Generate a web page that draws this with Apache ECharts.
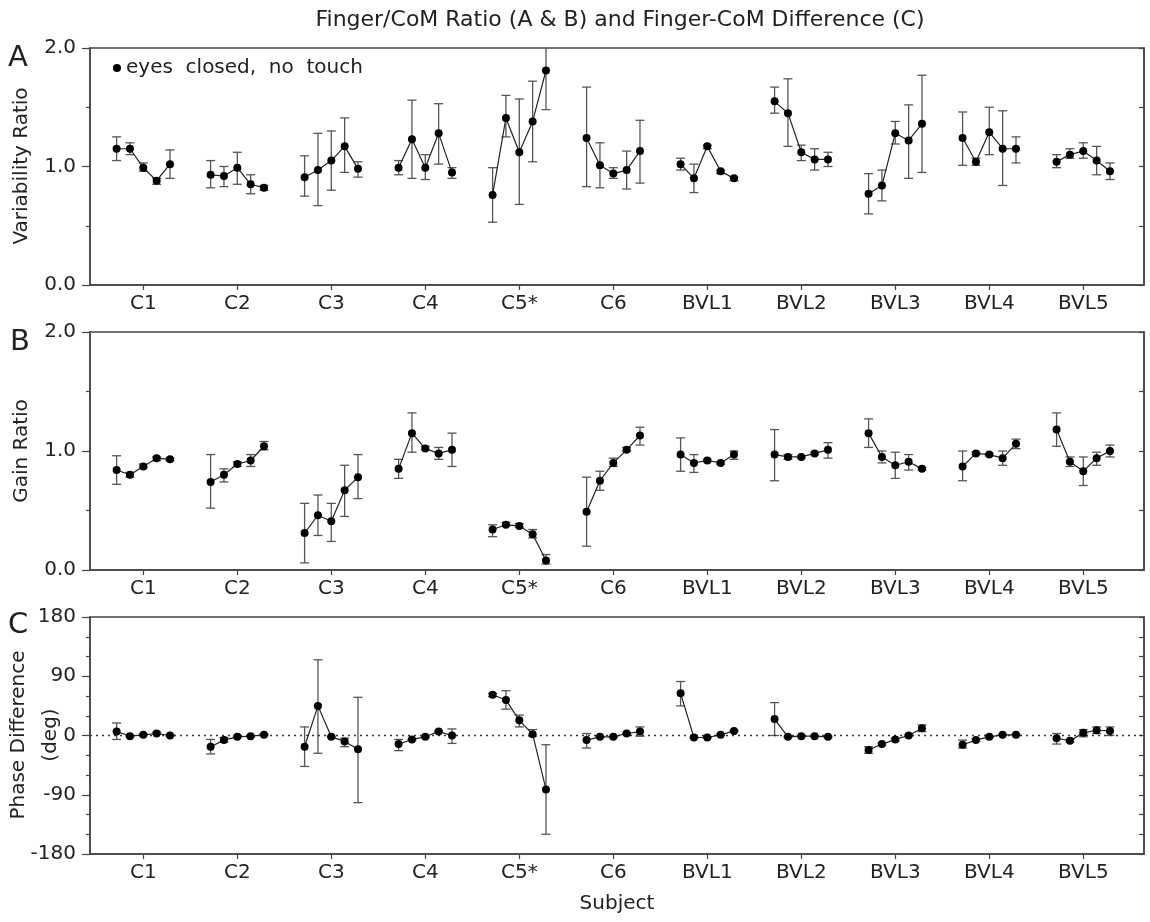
<!DOCTYPE html>
<html>
<head>
<meta charset="utf-8">
<script src="https://cdn.jsdelivr.net/npm/echarts@6/dist/echarts.min.js"></script>
<style>html,body{margin:0;padding:0;background:#fff}#chart{width:1150px;height:922px}</style>
</head>
<body>
<div id="chart"></div>
<script>
// ---- data ----
const subjects = ['C1','C2','C3','C4','C5*','C6','BVL1','BVL2','BVL3','BVL4','BVL5'];
const seriesName = 'eyes closed, no touch';

// Panel A: variability ratio (5 conditions per subject)
const varMean = [
  [1.15,1.15,0.99,0.88,1.02],[0.93,0.92,0.99,0.85,0.82],[0.91,0.97,1.05,1.17,0.98],
  [0.99,1.23,0.99,1.28,0.95],[0.76,1.41,1.12,1.38,1.81],[1.24,1.01,0.94,0.97,1.13],
  [1.02,0.90,1.17,0.96,0.90],[1.55,1.45,1.12,1.06,1.06],[0.77,0.84,1.28,1.22,1.36],
  [1.24,1.04,1.29,1.15,1.15],[1.04,1.10,1.13,1.05,0.96]];
const varLow = [
  [1.05,1.10,0.96,0.85,0.90],[0.82,0.83,0.85,0.77,0.80],[0.75,0.67,0.80,0.95,0.91],
  [0.93,0.90,0.89,1.02,0.90],[0.53,1.25,0.68,1.04,1.48],[0.83,0.82,0.90,0.81,0.86],
  [0.97,0.78,1.15,0.94,0.88],[1.45,1.17,1.05,0.97,1.00],[0.60,0.71,1.19,0.90,0.95],
  [1.01,1.01,1.10,0.84,1.03],[0.99,1.07,1.07,0.93,0.89]];
const varHigh = [
  [1.25,1.20,1.03,0.90,1.14],[1.05,1.00,1.12,0.93,0.84],[1.09,1.28,1.30,1.41,1.04],
  [1.05,1.56,1.10,1.53,0.99],[0.99,1.60,1.57,1.72,2.10],[1.67,1.20,0.99,1.13,1.39],
  [1.07,1.02,1.18,0.97,0.91],[1.67,1.74,1.18,1.15,1.12],[0.94,0.97,1.38,1.52,1.77],
  [1.46,1.07,1.50,1.47,1.25],[1.10,1.15,1.20,1.17,1.03]];

// Panel B: gain ratio
const gainMean = [
  [0.84,0.80,0.87,0.94,0.93],[0.74,0.80,0.89,0.92,1.04],[0.31,0.46,0.41,0.67,0.78],
  [0.85,1.15,1.02,0.98,1.01],[0.34,0.38,0.37,0.30,0.08],[0.49,0.75,0.90,1.01,1.13],
  [0.97,0.90,0.92,0.90,0.97],[0.97,0.95,0.95,0.98,1.01],[1.15,0.95,0.88,0.91,0.85],
  [0.87,0.98,0.97,0.94,1.06],[1.18,0.91,0.83,0.94,1.00]];
const gainLow = [
  [0.72,0.78,0.86,0.92,0.92],[0.52,0.74,0.87,0.87,1.01],[0.06,0.29,0.24,0.45,0.60],
  [0.77,0.99,1.01,0.93,0.87],[0.28,0.37,0.36,0.27,0.05],[0.20,0.67,0.87,1.00,1.05],
  [0.83,0.82,0.91,0.89,0.93],[0.75,0.93,0.94,0.97,0.94],[1.03,0.90,0.77,0.84,0.84],
  [0.75,0.97,0.96,0.88,1.02],[1.04,0.87,0.71,0.88,0.95]];
const gainHigh = [
  [0.96,0.82,0.89,0.95,0.94],[0.97,0.85,0.91,0.97,1.08],[0.56,0.63,0.56,0.88,0.97],
  [0.93,1.32,1.04,1.03,1.15],[0.38,0.40,0.39,0.34,0.13],[0.78,0.83,0.94,1.03,1.20],
  [1.11,0.97,0.93,0.91,1.00],[1.18,0.97,0.96,0.99,1.07],[1.27,1.00,0.99,0.97,0.86],
  [1.00,0.99,0.98,1.00,1.10],[1.32,0.95,0.95,0.99,1.05]];

// Panel C: phase difference (deg)
const phaseMean = [
  [6,-1,1,3,0],[-17,-7,-2,-1,1],[-17,45,-2,-9,-21],[-13,-6,-2,6,0],[62,54,23,2,-82],
  [-7,-2,-2,3,6],[64,-3,-3,1,7],[25,-2,-1,-1,-2],[-22,-13,-6,0,11],[-14,-7,-2,1,1],[-4,-8,4,8,7]];
const phaseLow = [
  [-6,-2,0,2,-1],[-28,-10,-3,-2,0],[-47,-27,-3,-17,-102],[-23,-7,-3,5,-12],[59,40,13,-1,-150],
  [-19,-3,-3,2,-1],[45,-4,-4,0,6],[0,-3,-2,-2,-3],[-27,-15,-8,-1,6],[-19,-9,-3,0,0],[-13,-10,-2,3,0]];
const phaseHigh = [
  [19,0,2,5,1],[-6,-3,-1,0,2],[13,115,-1,-4,58],[-6,-5,-1,7,10],[64,68,31,9,-14],
  [3,-1,-1,4,13],[82,-2,-2,2,8],[50,-1,0,0,-1],[-17,-11,-4,1,16],[-7,-5,-1,2,2],[3,-6,9,13,13]];

const yTicksAB = ['0.0','1.0','2.0'];
const yTicksC = ['-180','-90','0','90','180'];

// ---- layout / style ----
const FONT = 'DejaVu Sans';
const TXT = '#222';
const AX = '#444';
const STEP = 0.142;
const grids = [
  {left: 90, right: 6, top: 48, height: 237},
  {left: 90, right: 6, top: 332, height: 238},
  {left: 90, right: 6, top: 617, height: 237}
];
const tickVals = subjects.map((s, i) => i);

const xAxes = grids.map((g, i) => ({
  type: 'value', gridIndex: i, min: -0.567, max: 10.646,
  name: i === 2 ? 'Subject' : '', nameLocation: 'middle', nameGap: 40,
  nameTextStyle: {fontFamily: FONT, fontSize: 20, color: TXT},
  axisLine: {show: true, onZero: false, lineStyle: {color: AX, width: 1.5}},
  axisTick: {show: true, customValues: tickVals, length: 5, lineStyle: {color: AX, width: 1.2}},
  axisLabel: {show: true, customValues: tickVals, formatter: v => subjects[Math.round(v)],
    fontFamily: FONT, fontSize: 20, color: TXT, margin: 9},
  splitLine: {show: false}
}));

function leftY(i, min, max, interval, minorSplit, fmt) {
  return {
    type: 'value', gridIndex: i, position: 'left', min, max, interval,
    axisLine: {show: true, onZero: false, lineStyle: {color: AX, width: 1.5}},
    axisTick: {show: true, length: 8, lineStyle: {color: AX, width: 1.2}},
    minorTick: {show: true, splitNumber: minorSplit, length: 4, lineStyle: {color: AX, width: 1.2}},
    axisLabel: {formatter: fmt, fontFamily: FONT, fontSize: 20, color: TXT, margin: 14},
    splitLine: {show: false}, minorSplitLine: {show: false}
  };
}
function rightY(i, min, max, interval) {
  return {
    type: 'value', gridIndex: i, position: 'right', min, max, interval,
    axisLine: {show: true, onZero: false, lineStyle: {color: AX, width: 1.5}},
    axisTick: {show: true, inside: true, length: 5, lineStyle: {color: AX, width: 1.2}},
    axisLabel: {show: false}, splitLine: {show: false}
  };
}
const yAxes = [
  leftY(0, 0, 2, 1, 2, v => yTicksAB[Math.round(v)]),
  rightY(0, 0, 2, 0.5),
  leftY(1, 0, 2, 1, 2, v => yTicksAB[Math.round(v)]),
  rightY(1, 0, 2, 0.5),
  leftY(2, -180, 180, 90, 3, v => yTicksC[Math.round(v / 90) + 2]),
  rightY(2, -180, 180, 30)
];

const series = [];
function addPanel(mean, low, high, p) {
  const bars = [];
  mean.forEach((vals, s) => {
    const pts = vals.map((v, k) => [s + (k - 2) * STEP, v]);
    vals.forEach((v, k) => bars.push([s + (k - 2) * STEP, low[s][k], high[s][k]]));
    const ser = {
      type: 'line', name: seriesName, xAxisIndex: p, yAxisIndex: p * 2,
      data: pts, symbol: 'circle', symbolSize: 8, color: '#000',
      itemStyle: {color: '#000'}, lineStyle: {color: '#222', width: 1.2}, z: 5
    };
    if (p === 2 && s === 0) {
      ser.markLine = {silent: true, symbol: 'none', label: {show: false},
        lineStyle: {type: [2, 4], color: '#333', width: 1.3}, data: [{yAxis: 0}]};
    }
    series.push(ser);
  });
  series.push({
    type: 'custom', xAxisIndex: p, yAxisIndex: p * 2, clip: true, z: 3,
    data: bars, encode: {x: 0, y: [1, 2]},
    renderItem: (params, api) => {
      const x = api.value(0);
      const a = api.coord([x, api.value(2)]);
      const b = api.coord([x, api.value(1)]);
      const w = 4.5;
      const st = {stroke: '#555', lineWidth: 1.3};
      return {type: 'group', children: [
        {type: 'line', shape: {x1: a[0], y1: a[1], x2: b[0], y2: b[1]}, style: st},
        {type: 'line', shape: {x1: a[0] - w, y1: a[1], x2: a[0] + w, y2: a[1]}, style: st},
        {type: 'line', shape: {x1: b[0] - w, y1: b[1], x2: b[0] + w, y2: b[1]}, style: st}
      ]};
    }
  });
}
addPanel(varMean, varLow, varHigh, 0);
addPanel(gainMean, gainLow, gainHigh, 1);
addPanel(phaseMean, phaseLow, phaseHigh, 2);

function vText(text, x, y) {
  return {type: 'text', x, y, rotation: Math.PI / 2,
    style: {text, fontFamily: FONT, fontSize: 20, fill: TXT, align: 'center', verticalAlign: 'middle'}};
}

const chart = echarts.init(document.getElementById('chart'));
chart.setOption({
  animation: false,
  backgroundColor: '#fff',
  grid: grids.map(g => Object.assign({show: true, borderColor: AX, borderWidth: 1.5,
    backgroundColor: 'transparent', containLabel: false, outerBoundsMode: 'none'}, g)),
  xAxis: xAxes,
  yAxis: yAxes,
  legend: {
    data: [seriesName], left: 113, top: 58, padding: 0, icon: 'circle',
    itemWidth: 8, itemHeight: 8,
    formatter: n => n.replace(/ /g, '  '),
    textStyle: {fontFamily: FONT, fontSize: 20, color: TXT}
  },
  graphic: [
    {type: 'text', x: 620, y: 20, style: {text: 'Finger/CoM Ratio (A & B) and Finger-CoM Difference (C)',
      fontFamily: FONT, fontSize: 22, fill: TXT, align: 'center', verticalAlign: 'middle'}},
    {type: 'text', x: 8, y: 58, style: {text: 'A', fontFamily: FONT, fontSize: 29, fill: TXT, verticalAlign: 'middle'}},
    {type: 'text', x: 10, y: 342, style: {text: 'B', fontFamily: FONT, fontSize: 29, fill: TXT, verticalAlign: 'middle'}},
    {type: 'text', x: 8, y: 625, style: {text: 'C', fontFamily: FONT, fontSize: 29, fill: TXT, verticalAlign: 'middle'}},
    vText('Variability Ratio', 22, 166),
    vText('Gain Ratio', 22, 451),
    vText('Phase Difference', 19, 735),
    vText('(deg)', 51, 735)
  ],
  series
});
</script>
</body>
</html>
